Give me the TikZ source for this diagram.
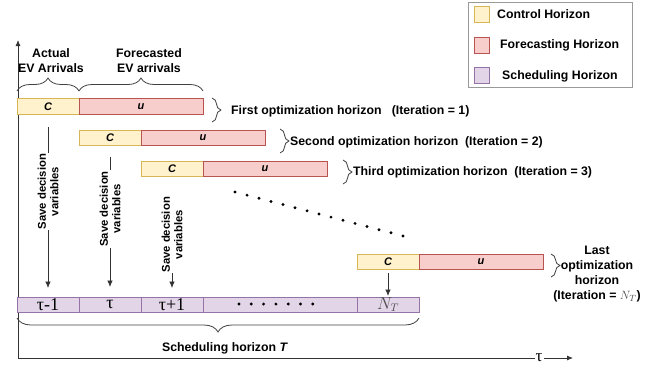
\documentclass[tikz,border=0pt]{standalone}
\usepackage{fontspec}
\setmainfont{Liberation Sans}
\newfontfamily\serifgr{Liberation Serif}
\usetikzlibrary{arrows.meta,positioning,decorations.pathreplacing}

\definecolor{ctrlfill}{HTML}{FFF2CC}
\definecolor{ctrldraw}{HTML}{D6B656}
\definecolor{fcstfill}{HTML}{F8CECC}
\definecolor{fcstdraw}{HTML}{B85450}
\definecolor{schfill}{HTML}{E1D5E7}
\definecolor{schdraw}{HTML}{9673A6}

\begin{document}
\begin{tikzpicture}[x=1pt, y=-1pt,
		font=\fontsize{12.3}{15}\selectfont\bfseries,
		box/.style={draw, minimum height=15.5pt, inner sep=0pt, outer sep=0pt, line width=0.8pt, font=\fontsize{11}{13}\selectfont\bfseries\itshape},
		ctrl/.style={box, fill=ctrlfill, draw=ctrldraw, minimum width=62pt},
		fcst/.style={box, fill=fcstfill, draw=fcstdraw, minimum width=124pt},
		sched/.style={box, fill=schfill, draw=schdraw, minimum width=62pt, minimum height=15pt, font=\fontsize{18}{18}\selectfont\serifgr},
		leg/.style={draw, minimum width=15pt, minimum height=16pt, inner sep=0pt, line width=0.8pt},
		brc/.style={decorate, decoration={brace, amplitude=#1}, line width=0.8pt, draw=black!75},
		brc/.default=9pt,
		arr/.style={-{Latex[length=6.5pt,width=5.5pt]}, line width=0.8pt, draw=black!80},
		axis/.style={-{Latex[length=6pt,width=5pt]}, line width=0.8pt, draw=black!80},
		savelbl/.style={rotate=90, fill=white, inner sep=1pt, align=center, font=\fontsize{11.3}{12.5}\selectfont\bfseries}
	]
		\useasboundingbox (0,0) rectangle (652,370);

		% legend
		\draw[black!40, line width=0.8pt] (468,2) rectangle (632,87);
		\node[leg, fill=ctrlfill, draw=ctrldraw] (lc) at (481.5,14) {};
		\node[leg, fill=fcstfill, draw=fcstdraw] (lf) at (481.5,45) {};
		\node[leg, fill=schfill, draw=schdraw] (ls) at (481.5,75.5) {};
		\node[anchor=west, inner sep=0pt] (lct) at (497,14) {Control Horizon};
		\node[anchor=west, inner sep=0pt] (lft) at (500,45) {Forecasting Horizon};
		\node[anchor=west, inner sep=0pt] (lst) at (502,76) {Scheduling Horizon};

		% axes
		\coordinate (o) at (18,358);
		\coordinate (ytop) at (18,40);
		\coordinate (xend) at (573,358);
		\draw[axis] (o) -- (ytop);
		\draw[axis] (o) -- node[pos=.939, fill=white, inner sep=1pt, font=\fontsize{17}{17}\selectfont\serifgr] (tau) {τ} (xend);

		% optimization horizons
		\node[ctrl] (c1) at (48,106.5) {C};
		\node[fcst, right=0pt of c1] (u1) {u};
		\node[ctrl] (c2) at (110,138) {C};
		\node[fcst, right=0pt of c2] (u2) {u};
		\node[ctrl] (c3) at (172,169) {C};
		\node[fcst, right=0pt of c3] (u3) {u};
		\node[ctrl] (cN) at (388,262) {C};
		\node[fcst, right=0pt of cN] (uN) {u};

		% scheduling horizon
		\node[sched] (s1) at (48,304.5) {τ-1};
		\node[sched, right=0pt of s1] (s2) {τ};
		\node[sched, right=0pt of s2] (s3) {τ+1};
		\node[sched, right=0pt of s3, minimum width=154pt] (sd) {};
		\node[sched, right=0pt of sd, font=\fontsize{16}{16}\selectfont] (sN) {\color{black!70}$N_T$};
		\foreach \i in {0,...,6}
			\fill (239+\i*12.3,304) circle (1.6pt);
		\foreach \i in {0,...,14}
			\fill (235+\i*12,192+\i*3.14) circle (1.6pt);

		% braces and labels
		\draw[brc=13pt] (17,91) -- (79,91);
		\draw[brc=13pt] (79,91) -- (203,91);
		\node[align=center] (act) at (51,60.5) {Actual\\EV Arrivals};
		\node[align=center] (fct) at (149,60.5) {Forecasted\\EV arrivals};

		\draw[brc] (212,98) -- (212,122);
		\draw[brc] (280,129) -- (280,153);
		\draw[brc] (343,160) -- (343,184);
		\draw[brc] (551,254) -- (551,277);
		\node[anchor=west, inner sep=0pt] (t1) at (231,111) {First optimization horizon\ \ \ (Iteration = 1)};
		\node[anchor=west, inner sep=0pt] (t2) at (290,142) {Second optimization horizon\ \ (Iteration = 2)};
		\node[anchor=west, inner sep=0pt] (t3) at (353,172) {Third optimization horizon\ \ (Iteration = 3)};
		\node[align=center] (tN) at (597,274) {Last\\optimization\\horizon\\(Iteration = {\color{black!70}$N_T$})};

		\draw[brc=14pt] (419,318) -- (17,318);
		\node (sh) at (225,348) {Scheduling horizon \textit{T}};

		% save decision variables
		\draw[arr] ([yshift=-13pt]c1.south) -- node[savelbl, pos=.4] (v1) {Save decision\\variables} ([yshift=9pt]s1.north);
		\draw[arr] ([yshift=-11pt]c2.south) -- node[savelbl, pos=.4] (v2) {Save decision\\variables} ([yshift=10pt]s2.north);
		\draw[arr] ([yshift=-21pt]c3.south) -- node[savelbl, pos=.41] (v3) {Save decision\\variables} ([yshift=9pt]s3.north);
		\draw[arr] ([yshift=-3pt]cN.south) -- ([yshift=1pt]sN.north);
	\end{tikzpicture}
\end{document}
